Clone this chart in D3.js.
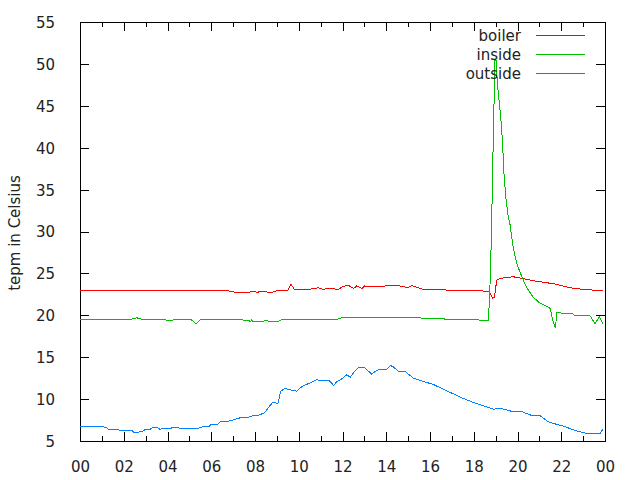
<!DOCTYPE html>
<html><head><meta charset="utf-8">
<script src="https://cdn.jsdelivr.net/npm/d3@7"></script>
<style>
body{margin:0;background:#fff;}
text{font-family:"DejaVu Sans",sans-serif;font-size:15px;fill:#222;}
</style></head>
<body><svg id="c" width="640" height="480"></svg>
<script>
const seriesNames = ["boiler","inside","outside"];
const seriesColors = ["#ff0000","#00c000","#0080ff"];
const xTickLabels = ["00","02","04","06","08","10","12","14","16","18","20","22","00"];
const yTicks = [5,10,15,20,25,30,35,40,45,50,55];
const yLabel = "tepm in Celsius";

const boilerHours = [0,0.5,1.0,1.4,1.6,3.4,3.5,3.6,3.9,4.25,4.4,6.5,6.6,6.8,7.1,7.7,7.9,8.1,8.3,8.5,8.76,8.9,9.05,9.5,9.65,9.8,10.5,10.9,11.1,11.4,11.8,12.0,12.25,12.5,12.65,12.9,13.0,13.3,13.8,14.1,14.5,15.0,15.16,15.4,15.7,16.0,16.9,18.0,18.6,18.7,18.8,18.86,18.95,19.05,19.2,19.8,20.0,20.4,20.8,21.3,21.8,22.2,22.6,23.0,23.5,23.9];
const boilerTemp  = [23.0,22.95,22.9,23.0,22.9,22.9,23.0,22.9,23.0,23.0,22.9,22.9,23.0,22.9,22.75,22.75,22.85,22.75,22.85,22.8,22.7,22.85,23.0,23.0,23.7,23.1,23.1,23.3,23.1,23.2,23.1,23.4,23.6,23.2,23.5,23.2,23.5,23.4,23.4,23.6,23.55,23.3,23.55,23.35,23.1,23.1,23.0,23.0,22.85,22.8,22.4,22.0,22.2,24.2,24.4,24.6,24.5,24.3,24.1,23.9,23.7,23.4,23.2,23.1,23.0,22.9];

const insideHours = [0,2.36,2.6,2.8,3.2,3.5,3.8,3.97,4.1,4.3,5.1,5.3,5.5,7.4,7.8,7.85,7.9,8.4,8.5,8.6,9.1,9.2,10.2,10.3,11.8,12.0,15.5,15.6,16.6,16.7,18.05,18.13,18.3,18.5,18.66,18.72,18.76,18.82,18.85,18.90,18.97,19.02,19.08,19.23,19.31,19.38,19.46,19.56,19.66,19.8,19.96,20.2,20.4,20.7,21.0,21.4,21.5,21.6,21.73,21.8,21.94,22.0,22.5,22.6,23.3,23.55,23.74,23.9];
const insideTemp  = [19.55,19.55,19.7,19.55,19.45,19.45,19.55,19.4,19.4,19.45,19.45,19.0,19.45,19.45,19.3,19.45,19.3,19.3,19.4,19.3,19.3,19.45,19.45,19.55,19.55,19.75,19.75,19.65,19.65,19.5,19.5,19.55,19.4,19.35,19.4,21.7,25.0,30.8,35.8,42.0,50.5,50.4,47.7,43.7,40.9,37.0,34.2,32.0,30.8,28.2,26.2,24.6,23.4,22.2,21.5,21.0,20.8,19.5,18.45,20.3,20.4,20.25,20.25,20.0,20.0,19.0,19.85,19.0];

const outsideHours = [0,0.8,1.2,1.3,1.7,1.85,2.4,2.44,2.7,2.9,3.0,3.2,3.35,3.5,3.65,3.8,4.1,4.26,4.5,4.6,5.0,5.1,5.4,5.6,5.9,6.0,6.3,6.4,6.7,7.0,7.3,7.6,7.9,8.2,8.45,8.65,8.8,9.05,9.17,9.37,9.6,9.9,10.2,10.5,10.8,11.1,11.4,11.6,11.7,11.9,12.2,12.35,12.55,12.7,13.0,13.2,13.33,13.5,13.7,14.0,14.2,14.35,14.55,14.86,15.24,15.7,16.15,16.76,17.5,17.98,18.44,18.9,19.2,19.5,19.8,20.2,20.6,21.0,21.4,21.9,22.2,22.4,22.7,23.16,23.47,23.77,23.9];
const outsideTemp  = [6.79,6.79,6.63,6.4,6.4,6.2,6.2,6.07,6.07,6.2,6.4,6.4,6.63,6.63,6.4,6.5,6.5,6.6,6.6,6.45,6.45,6.5,6.5,6.7,6.7,7.0,7.0,7.3,7.3,7.5,7.75,7.75,8.0,8.1,8.4,9.1,9.6,9.5,10.9,11.3,11.1,10.95,11.6,11.9,12.3,12.2,12.2,11.6,12.0,12.3,12.9,12.6,13.3,13.7,13.8,13.3,13.0,13.3,13.55,13.5,14.0,13.8,13.3,13.3,12.5,12.1,11.75,11.0,10.1,9.6,9.2,8.8,8.9,8.7,8.5,8.5,8.1,8.1,7.3,6.9,6.7,6.47,6.2,5.9,5.85,5.9,6.4];

const seriesData = [
  boilerHours.map((h,i)=>[h,boilerTemp[i]]),
  insideHours.map((h,i)=>[h,insideTemp[i]]),
  outsideHours.map((h,i)=>[h,outsideTemp[i]])
];

const L=80,R=605,T=22,B=441;
const svg=d3.select("#c");
const x=d3.scaleLinear().domain([0,24]).range([L,R]);
const y=d3.scaleLinear().domain([5,55]).range([B,T]);
const majorX=d3.range(0,25,2), minorX=d3.range(1,24,2);

// minor ticks
const gMinB=svg.append("g").attr("transform",`translate(0,${B})`).call(d3.axisBottom(x).tickValues(minorX).tickSize(-5).tickFormat(""));
const gMinT=svg.append("g").attr("transform",`translate(0,${T})`).call(d3.axisTop(x).tickValues(minorX).tickSize(-5).tickFormat(""));
const gX=svg.append("g").attr("transform",`translate(0,${B})`).call(d3.axisBottom(x).tickValues(majorX).tickSize(-9).tickPadding(20).tickFormat((d,i)=>xTickLabels[i]));
const gXT=svg.append("g").attr("transform",`translate(0,${T})`).call(d3.axisTop(x).tickValues(majorX).tickSize(-9).tickFormat(""));
const gY=svg.append("g").attr("transform",`translate(${L},0)`).call(d3.axisLeft(y).tickValues(yTicks).tickSize(-9).tickPadding(25).tickFormat(d3.format("d")));
const gYR=svg.append("g").attr("transform",`translate(${R},0)`).call(d3.axisRight(y).tickValues(yTicks).tickSize(-9).tickFormat(""));
svg.selectAll(".domain").remove();
svg.selectAll(".tick line").attr("stroke","#000").attr("shape-rendering","crispEdges");
svg.selectAll(".tick text").attr("fill","#222").style("font-family","DejaVu Sans").style("font-size","15px");
gY.selectAll(".tick text").attr("dy","0.36em");

svg.append("rect").attr("x",L).attr("y",T).attr("width",R-L).attr("height",B-T)
  .attr("fill","none").attr("stroke","#000").attr("shape-rendering","crispEdges");

svg.append("text").attr("transform",`translate(20,233) rotate(-90)`).attr("text-anchor","middle").text(yLabel);

const line=d3.line().x(d=>x(d[0])).y(d=>y(d[1]));
seriesData.forEach((s,i)=>{
  svg.append("path").datum(s).attr("d",line).attr("fill","none")
    .attr("stroke",seriesColors[i]).attr("stroke-width",1).attr("shape-rendering","crispEdges");
});

// legend
seriesNames.forEach((n,i)=>{
  const ly=35+i*19.3;
  svg.append("text").attr("x",521).attr("y",ly+5.5).attr("text-anchor","end").text(n);
  svg.append("line").attr("x1",536).attr("x2",585).attr("y1",ly).attr("y2",ly)
    .attr("stroke",seriesColors[i]).attr("shape-rendering","crispEdges");
});
</script></body></html>
